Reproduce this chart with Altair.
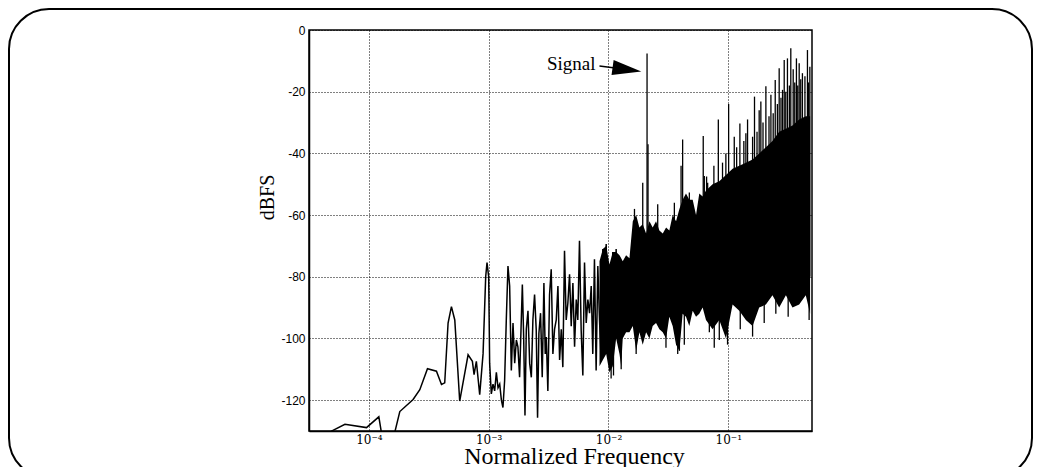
import altair as alt
import pandas as pd

# ---- data (log10 of normalized frequency, dBFS) ----
trace_log10_freq = [
    -4.40, -4.311, -4.20, -4.02, -3.917, -3.885, -3.80, -3.742, -3.631, -3.575,
    -3.511, -3.436, -3.394, -3.367, -3.339, -3.311, -3.283, -3.242, -3.172, -3.136,
    -3.122, -3.103, -3.075, -3.047, -3.025, -3.014,
    -3.000, -2.992, -2.978, -2.964, -2.950, -2.936, -2.922, -2.908, -2.894, -2.881,
    -2.867, -2.853, -2.839, -2.825, -2.811, -2.797, -2.783, -2.769, -2.756, -2.742,
    -2.719, -2.708, -2.697, -2.686, -2.672, -2.658, -2.644, -2.631, -2.617, -2.603,
    -2.592, -2.581, -2.567, -2.553, -2.539, -2.528, -2.519, -2.506, -2.492, -2.478,
    -2.464, -2.450, -2.436, -2.422, -2.408, -2.394, -2.381, -2.367, -2.353, -2.339,
    -2.325, -2.311, -2.297, -2.283, -2.269, -2.256, -2.242, -2.228, -2.214, -2.200,
    -2.186, -2.172, -2.158, -2.144, -2.131, -2.117, -2.103, -2.089, -2.075, -2.061,
    -2.047, -2.033, -2.019, -2.006, -1.992, -1.978, -1.964, -1.950, -1.936, -1.922,
]
trace_dbfs = [
    -135, -130, -127.8, -128.9, -125.4, -133, -133, -123.7, -119.8, -116.6,
    -109.8, -110.6, -114.9, -114.4, -95, -89.7, -94, -120.3, -105.3, -107.4,
    -111.7, -107.4, -118.2, -105, -80, -75.4,
    -80, -108, -118, -114.8, -117, -111, -116, -114.8, -120, -122.4,
    -113.7, -94, -76.5, -83, -110.4, -95, -108, -100.5, -102.7, -112.6,
    -82.5, -99.5, -125, -97, -91, -108, -112.6, -94, -85.8, -97.3,
    -125.7, -98.4, -91.8, -112.6, -82, -105, -99.5, -117, -85.8, -77.6,
    -105, -97, -94, -83, -107, -97, -109.3, -71.6, -94, -88.5,
    -79.2, -96, -82, -102.7, -87.4, -94, -68.3, -97.3, -112, -75.4,
    -95, -87.4, -91.8, -83, -105, -74.3, -110.4, -76.5, -94, -107,
    -71, -88.5, -69.4, -99.5, -77.6, -96, -72, -100.5, -71, -94,
]

band_log10_freq = [
    -2.075, -2.047, -2.019, -1.992, -1.964, -1.936, -1.908, -1.894, -1.881, -1.853,
    -1.825, -1.797, -1.769, -1.742, -1.714, -1.686, -1.658, -1.631, -1.603, -1.575,
    -1.547, -1.519, -1.492, -1.464, -1.436, -1.408, -1.381, -1.353, -1.325, -1.297,
    -1.269, -1.242, -1.214, -1.186, -1.131, -1.075, -1.019, -0.964, -0.908, -0.853,
    -0.797, -0.742, -0.686, -0.631, -0.575, -0.519, -0.464, -0.408, -0.353, -0.317,
]
band_low_dbfs = [
    -109, -107, -105, -111, -109, -100, -105, -109, -100, -98,
    -98, -96, -104, -98, -102, -98, -100, -96, -95, -97,
    -98, -100, -93, -96, -102, -104, -92, -93, -96, -91,
    -93, -92, -90, -94, -97, -94, -100, -89, -91, -94,
    -96, -90, -89, -86, -90, -86, -90, -89, -86, -92,
]
band_high_dbfs = [
    -75, -71, -70, -76, -72, -72, -73, -74, -75, -73,
    -74, -62, -60, -64, -63, -66, -62, -64, -62, -65,
    -66, -64, -65, -60, -62, -58, -55, -53, -55, -55,
    -60, -53, -54, -52, -50, -49, -47, -45, -44, -43,
    -42, -40, -38, -36, -33, -32, -31, -29, -28, -28,
]

spike_log10_freq = [
    -1.783, -1.714, -1.678, -1.670, -1.589, -1.450, -1.394, -1.381, -1.325, -1.209,
    -1.200, -1.181, -1.172, -1.083, -1.048, -0.997, -0.950, -0.903, -0.853, -0.839,
    -0.797, -0.781, -0.742, -0.728, -0.686, -0.644, -0.608, -0.575, -0.547, -0.533,
    -0.506, -0.478, -0.458, -0.431, -0.408, -0.381, -0.339, -0.319,
    -1.120, -1.020, -0.930, -0.870, -0.760, -0.710, -0.660, -0.625, -0.590, -0.560,
    -0.520, -0.490, -0.445, -0.420, -0.395, -0.360, -0.330,
    -1.978, -1.958, -1.894, -1.769, -1.520, -1.422, -1.408, -1.367, -1.158, -1.117,
    -1.075, -1.006, -0.900, -0.797, -0.700, -0.603, -0.500, -0.325,
]
spike_dbfs = [
    -58, -49.5, -7.6, -37, -56.5, -56, -44, -35.5, -52.7, -34.4,
    -47.3, -47.5, -49.5, -29, -43, -24, -34.6, -30.3, -33.5, -29,
    -34.6, -21.6, -26, -23.2, -18.2, -21, -16.2, -12.4, -19.4, -9.7,
    -9.2, -5.9, -12.7, -9.2, -10.8, -14, -6.5, -11.9,
    -44, -40, -38, -36, -33, -30, -28, -27, -24, -22,
    -20, -18, -17, -18, -16, -15, -17,
    -113, -112, -110, -105, -103, -105, -104, -102, -98, -103,
    -100.5, -102, -97, -99.4, -95, -92, -93, -94,
]

x_tick_values = [1e-4, 1e-3, 1e-2, 1e-1]
x_tick_labels = ["10⁻⁴", "10⁻³", "10⁻²", "10⁻¹"]
y_tick_values = [-120, -100, -80, -60, -40, -20, 0]

annotation_label = ["Signal"]
annotation_freq = [0.0078]
annotation_dbfs = [-13.0]
arrow_start_freq = [0.00841]
arrow_start_dbfs = [-11.7]
arrow_head_freq = [0.01426]
arrow_head_dbfs = [-12.8]

# ---- tables ----
trace = pd.DataFrame({"lf": trace_log10_freq, "db": trace_dbfs})
trace["f"] = 10 ** trace["lf"]
band = pd.DataFrame({"lf": band_log10_freq, "lo": band_low_dbfs, "hi": band_high_dbfs})
band["f"] = 10 ** band["lf"]
spikes = pd.DataFrame({"lf": spike_log10_freq, "db": spike_dbfs})
spikes["f"] = 10 ** spikes["lf"]
label_df = pd.DataFrame({"f": annotation_freq, "db": annotation_dbfs, "label": annotation_label})
arrow_df = pd.DataFrame({"f": arrow_start_freq, "db": arrow_start_dbfs,
                         "f2": arrow_head_freq, "db2": arrow_head_dbfs})
head_df = pd.DataFrame({"f": arrow_head_freq, "db": arrow_head_dbfs})

label_expr = " : ".join(
    f"datum.value < {v * 5} ? '{t}'" for v, t in zip(x_tick_values[:-1], x_tick_labels[:-1])
) + f" : '{x_tick_labels[-1]}'"

xscale = alt.Scale(type="log", domain=[10 ** -4.5, 0.5], nice=False)
yscale = alt.Scale(domain=[-130, 0], nice=False, zero=False)

x_axis = alt.Axis(
    values=x_tick_values, labelExpr=label_expr,
    title="Normalized Frequency", titleFont="Liberation Serif", titleFontSize=24,
    titleFontWeight="normal", titleColor="black", titleX=265, titleY=32,
    titleAlign="center", titleBaseline="alphabetic",
    labelFont="DejaVu Serif", labelFontSize=12, labelColor="black",
    labelPadding=3, labelFlush=False, ticks=False,
    grid=True, gridColor="black", gridDash=[1, 2], gridWidth=1, gridOpacity=1,
    domainColor="black", domainWidth=1.5,
)
y_axis = alt.Axis(
    values=y_tick_values, labelExpr="'' + datum.value",
    title="dBFS", titleFont="Liberation Serif", titleFontSize=20,
    titleFontWeight="normal", titleColor="black", titleX=-36, titleY=167,
    titleAngle=270, titleAlign="center", titleBaseline="alphabetic",
    labelFont="Liberation Sans", labelFontSize=12, labelColor="black",
    labelPadding=4, labelFlush=False, ticks=False,
    grid=True, gridColor="black", gridDash=[1, 2], gridWidth=1, gridOpacity=1,
    domainColor="black", domainWidth=1.5,
)

border = alt.Chart(pd.DataFrame({"k": [0]})).mark_rect(
    fill="transparent", stroke="black", strokeWidth=2, cornerRadius=40
).encode(x=alt.value(-300), x2=alt.value(723), y=alt.value(-21), y2=alt.value(448))

line = alt.Chart(trace).mark_line(color="black", strokeWidth=1.5, clip=True).encode(
    x=alt.X("f:Q", scale=xscale, axis=x_axis),
    y=alt.Y("db:Q", scale=yscale, axis=y_axis),
    order="lf:Q",
)

area = alt.Chart(band).mark_area(color="black", fill="black", fillOpacity=1).encode(
    x=alt.X("f:Q"), y=alt.Y("hi:Q"), y2=alt.Y2("lo:Q"),
)

rules = alt.Chart(spikes).mark_rule(color="black", strokeWidth=1.3, clip=True).encode(
    x=alt.X("f:Q"), y=alt.Y("db:Q"), y2=alt.datum(-80),
)

text = alt.Chart(label_df).mark_text(
    align="right", baseline="alphabetic", font="Liberation Serif", fontSize=19, color="black"
).encode(x="f:Q", y="db:Q", text="label:N")

shaft = alt.Chart(arrow_df).mark_rule(color="black", strokeWidth=1.5).encode(
    x="f:Q", y="db:Q", x2="f2:Q", y2="db2:Q"
)

head = alt.Chart(head_df).mark_point(
    shape="M-1,-0.52L1,0L-1,0.52Z", size=841, angle=8, filled=True,
    color="black", opacity=1, strokeWidth=0
).encode(x="f:Q", y="db:Q")

chart = alt.layer(border, line, area, rules, shaft, head, text).properties(
    width=503, height=401,
    padding={"left": 301, "top": 22, "right": 222, "bottom": 36},
    autosize=alt.AutoSizeParams(type="none"),
    background="white",
).configure_view(stroke="black", strokeWidth=1.5)

chart.save("out.html", embed_options={"renderer": "svg", "actions": False})
